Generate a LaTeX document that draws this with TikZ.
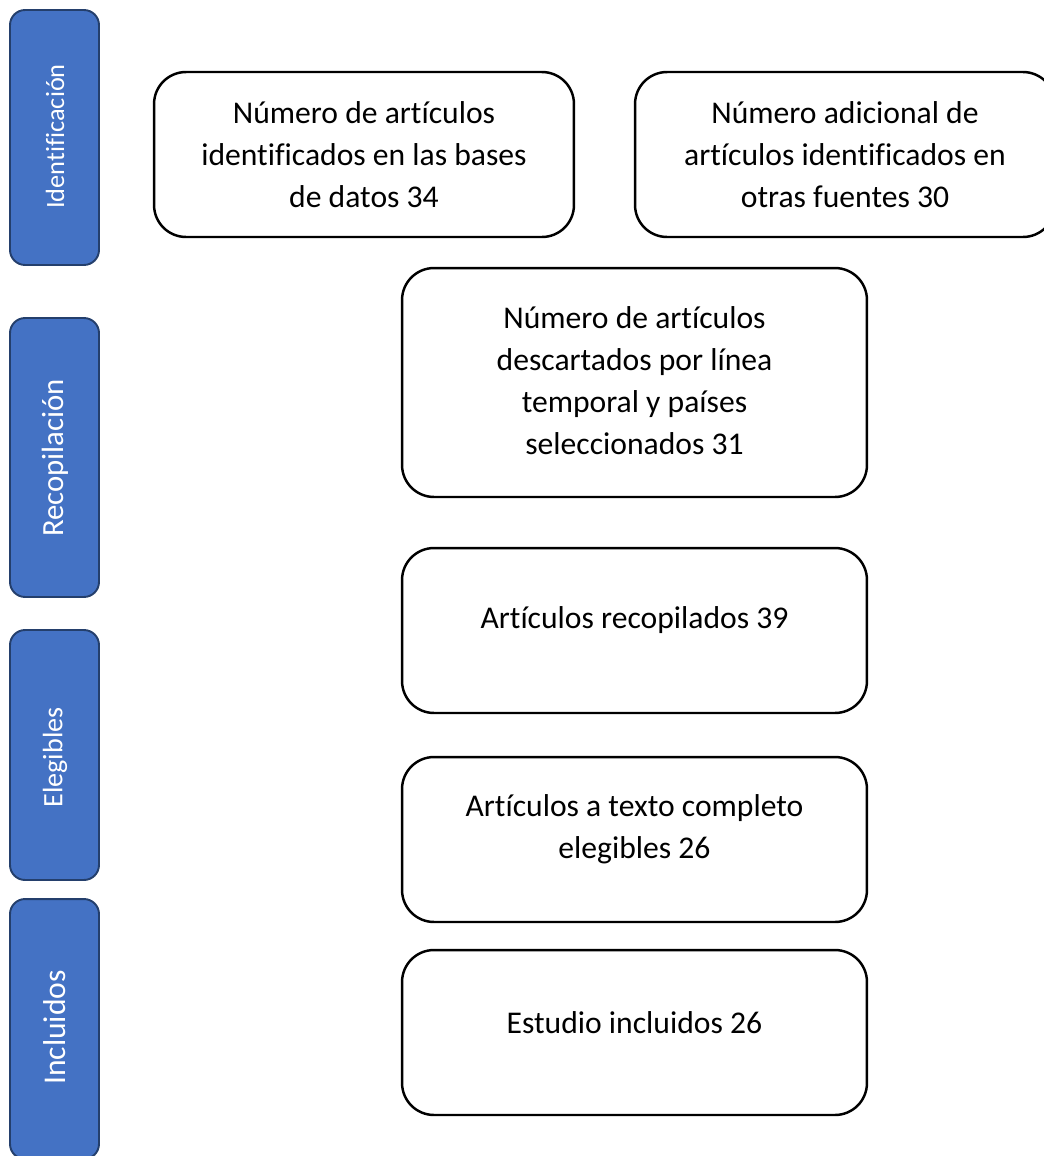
\documentclass[tikz,border=0pt]{standalone}
\usepackage{fontspec}
\setmainfont{Carlito}[Ligatures=NoCommon]
\usepackage{tikz}

\definecolor{barazul}{HTML}{4472C4}
\definecolor{barborde}{HTML}{243F6C}

\tikzset{
	etapa/.style={draw=barborde, fill=barazul, line width=1.1pt, rounded corners=0.3cm,
		minimum width=1.78cm, inner sep=0pt},
	etapatexto/.style={text=white, rotate=90, inner sep=0pt},
	caja/.style={draw=black, line width=1.4pt, rounded corners=0.64cm, inner sep=0pt},
	cajatexto/.style={align=center, inner sep=0pt}
}

\begin{document}
\begin{tikzpicture}[x=0.02cm, y=-0.02cm, font=\fontsize{18pt}{23.9pt}\selectfont]
\useasboundingbox (0,0) rectangle (1044,1156);
\clip (0,0) rectangle (1044,1156);
% stage bars on the left
	\node[etapa, minimum height=5.1cm] (ident) at (54.5,137.5) {};
	\node[etapa, minimum height=5.58cm] (recop) at (54.5,457.5) {};
	\node[etapa, minimum height=5.0cm] (elegi) at (54.5,755) {};
	\node[etapa, minimum height=5.2cm] (inclu) at (54.5,1029) {};
	\node[etapatexto, font=\fontsize{15pt}{18pt}\selectfont] (identtxt) at (55,136.5) {Identificación};
	\node[etapatexto, font=\fontsize{17.5pt}{21pt}\selectfont] (recoptxt) at (55,458) {Recopilación};
	\node[etapatexto, font=\fontsize{16pt}{19pt}\selectfont] (elegitxt) at (55,757.5) {Elegibles};
	\node[etapatexto] (inclutxt) at (55,1027.5) {Incluidos};
% boxes
	\node[caja, minimum width=8.4cm, minimum height=3.3cm] (bases) at (364,154.5) {};
	\node[caja, minimum width=8.4cm, minimum height=3.3cm] (otras) at (845,154.5) {};
	\node[caja, minimum width=9.3cm, minimum height=4.58cm] (descart) at (634.5,382.5) {};
	\node[caja, minimum width=9.3cm, minimum height=3.3cm] (recopil) at (634.5,630.5) {};
	\node[caja, minimum width=9.3cm, minimum height=3.3cm] (texto) at (634.5,839.5) {};
	\node[caja, minimum width=9.3cm, minimum height=3.3cm] (estudio) at (634.5,1032.5) {};
% box texts
	\node[cajatexto] (basestxt) at (bases.center) {Número de artículos\\identificados en las bases\\de datos 34};
	\node[cajatexto] (otrastxt) at (otras.center) {Número adicional de\\artículos identificados en\\otras fuentes 30};
	\node[cajatexto] (descarttxt) at ([yshift=0.04cm]descart.center) {Número de artículos\\descartados por línea\\temporal y países\\seleccionados 31};
	\node[cajatexto] (recopiltxt) at ([yshift=0.2cm]recopil.center) {Artículos recopilados 39};
	\node[cajatexto] (textotxt) at ([yshift=0.2cm]texto.center) {Artículos a texto completo\\elegibles 26};
	\node[cajatexto] (estudiotxt) at ([yshift=0.2cm]estudio.center) {Estudio incluidos 26};
\end{tikzpicture}
\end{document}
